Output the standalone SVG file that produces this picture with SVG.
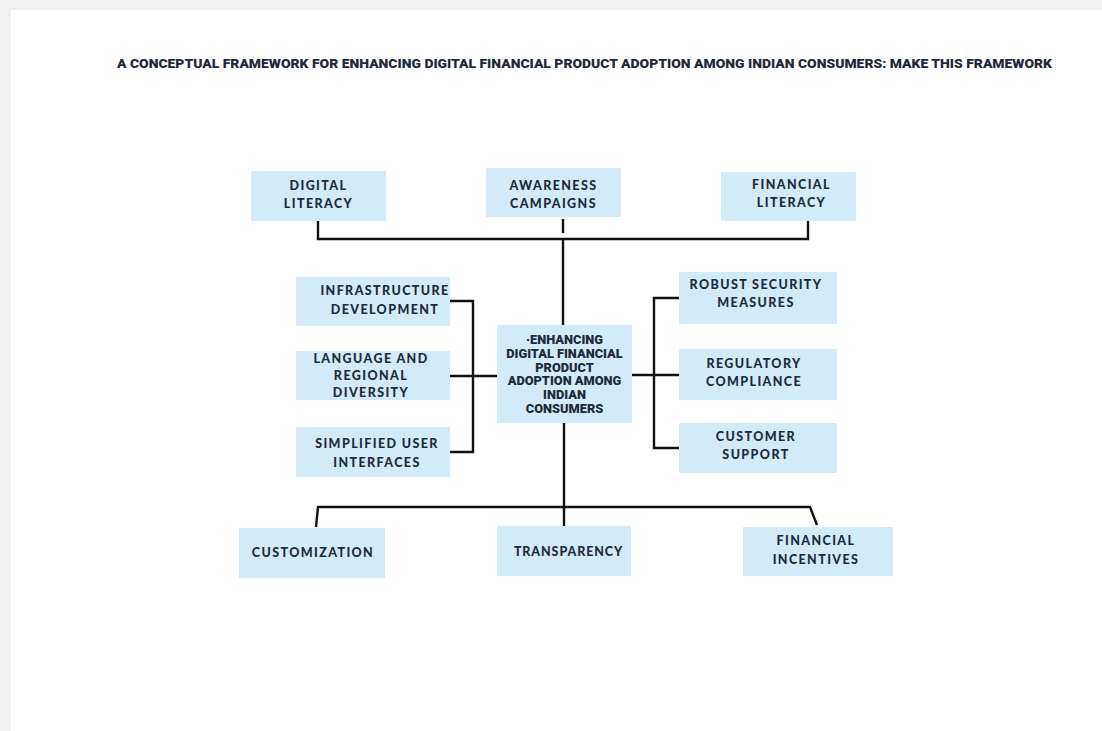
<svg xmlns="http://www.w3.org/2000/svg" width="1102" height="731" viewBox="0 0 1102 731">
  <style>
    .box { fill: #d3eaf9; }
    .lbl { font-family: Lato, "Open Sans", "Liberation Sans", sans-serif; font-weight: 900; font-size: 12.5px; letter-spacing: 1.4px; fill: #1d2a3b; text-anchor: middle; }
    .core { font-family: Roboto, "Liberation Sans", sans-serif; font-weight: 900; font-size: 12.8px; fill: #1d2a3b; text-anchor: middle; }
    .title { font-family: Roboto, "Liberation Sans", sans-serif; font-weight: 900; font-size: 13px; fill: #1c2a3a; }
    .wire { fill: none; stroke: #111; stroke-width: 2.4; stroke-linejoin: miter; }
  </style>

  <!-- page backdrop -->
  <rect x="0" y="0" width="1102" height="731" fill="#ffffff"/>
  <rect x="0" y="0" width="1102" height="9" fill="#f1f1f1"/>
  <rect x="0" y="0" width="10" height="731" fill="#f1f1f1"/>
  <line x1="10" y1="9" x2="10" y2="731" stroke="#e8e8e8" stroke-width="1"/>
  <line x1="10" y1="9" x2="1102" y2="9" stroke="#e8e8e8" stroke-width="1"/>

  <text class="title" x="117" y="68" textLength="935" lengthAdjust="spacingAndGlyphs">A CONCEPTUAL FRAMEWORK FOR ENHANCING DIGITAL FINANCIAL PRODUCT ADOPTION AMONG INDIAN CONSUMERS: MAKE THIS FRAMEWORK</text>

  <!-- connectors -->
  <g id="connectors">
    <!-- top row to core -->
    <polyline class="wire" points="318,221 318,239 808,239 808,221"/>
    <line class="wire" x1="563" y1="219" x2="563" y2="233"/>
    <line class="wire" x1="563" y1="239" x2="563" y2="325"/>
    <!-- left bracket -->
    <polyline class="wire" points="450,301 473,301 473,452 450,452"/>
    <line class="wire" x1="450" y1="376" x2="497" y2="376"/>
    <!-- right bracket -->
    <polyline class="wire" points="679,298 654,298 654,448 679,448"/>
    <line class="wire" x1="632" y1="375" x2="679" y2="375"/>
    <!-- core to bottom row -->
    <line class="wire" x1="564" y1="423" x2="564" y2="526"/>
    <polyline class="wire" points="316,527 318,507 810,507 817,525"/>
  </g>

  <g id="digital-literacy">
    <rect class="box" x="251" y="171" width="135" height="50"/>
    <text class="lbl" x="318.5" y="190">DIGITAL</text>
    <text class="lbl" x="318.5" y="208">LITERACY</text>
  </g>

  <g id="awareness-campaigns">
    <rect class="box" x="486" y="168" width="135" height="49"/>
    <text class="lbl" x="553.5" y="190">AWARENESS</text>
    <text class="lbl" x="553.5" y="208">CAMPAIGNS</text>
  </g>

  <g id="financial-literacy">
    <rect class="box" x="721" y="172" width="135" height="49"/>
    <text class="lbl" x="791.5" y="189">FINANCIAL</text>
    <text class="lbl" x="791.5" y="207">LITERACY</text>
  </g>

  <g id="infrastructure-development">
    <rect class="box" x="296" y="277" width="154" height="49"/>
    <text class="lbl" x="385" y="295">INFRASTRUCTURE</text>
    <text class="lbl" x="385" y="314">DEVELOPMENT</text>
  </g>

  <g id="language-diversity">
    <rect class="box" x="296" y="351" width="154" height="49"/>
    <text class="lbl" x="371" y="363">LANGUAGE AND</text>
    <text class="lbl" x="371" y="380">REGIONAL</text>
    <text class="lbl" x="371" y="397">DIVERSITY</text>
  </g>

  <g id="simplified-interfaces">
    <rect class="box" x="296" y="427" width="154" height="50"/>
    <text class="lbl" x="377" y="448">SIMPLIFIED USER</text>
    <text class="lbl" x="377" y="467">INTERFACES</text>
  </g>

  <g id="core">
    <rect class="box" x="497" y="325" width="135" height="98"/>
    <text class="core" x="564.5" y="344">·ENHANCING</text>
    <text class="core" x="564.5" y="357.8">DIGITAL FINANCIAL</text>
    <text class="core" x="564.5" y="371.6">PRODUCT</text>
    <text class="core" x="564.5" y="385.4">ADOPTION AMONG</text>
    <text class="core" x="564.5" y="399.2">INDIAN</text>
    <text class="core" x="564.5" y="413">CONSUMERS</text>
  </g>

  <g id="robust-security">
    <rect class="box" x="679" y="272" width="158" height="52"/>
    <text class="lbl" x="756" y="289">ROBUST SECURITY</text>
    <text class="lbl" x="756" y="307">MEASURES</text>
  </g>

  <g id="regulatory-compliance">
    <rect class="box" x="679" y="349" width="158" height="51"/>
    <text class="lbl" x="754" y="368">REGULATORY</text>
    <text class="lbl" x="754" y="386">COMPLIANCE</text>
  </g>

  <g id="customer-support">
    <rect class="box" x="679" y="423" width="158" height="50"/>
    <text class="lbl" x="756" y="441">CUSTOMER</text>
    <text class="lbl" x="756" y="459">SUPPORT</text>
  </g>

  <g id="customization">
    <rect class="box" x="239" y="528" width="146" height="50"/>
    <text class="lbl" x="313" y="557">CUSTOMIZATION</text>
  </g>

  <g id="transparency">
    <rect class="box" x="497" y="526" width="134" height="50"/>
    <text class="lbl" x="568.5" y="556" style="letter-spacing:0.9px">TRANSPARENCY</text>
  </g>

  <g id="financial-incentives">
    <rect class="box" x="743" y="527" width="150" height="49"/>
    <text class="lbl" x="816" y="545">FINANCIAL</text>
    <text class="lbl" x="816" y="564">INCENTIVES</text>
  </g>
</svg>
